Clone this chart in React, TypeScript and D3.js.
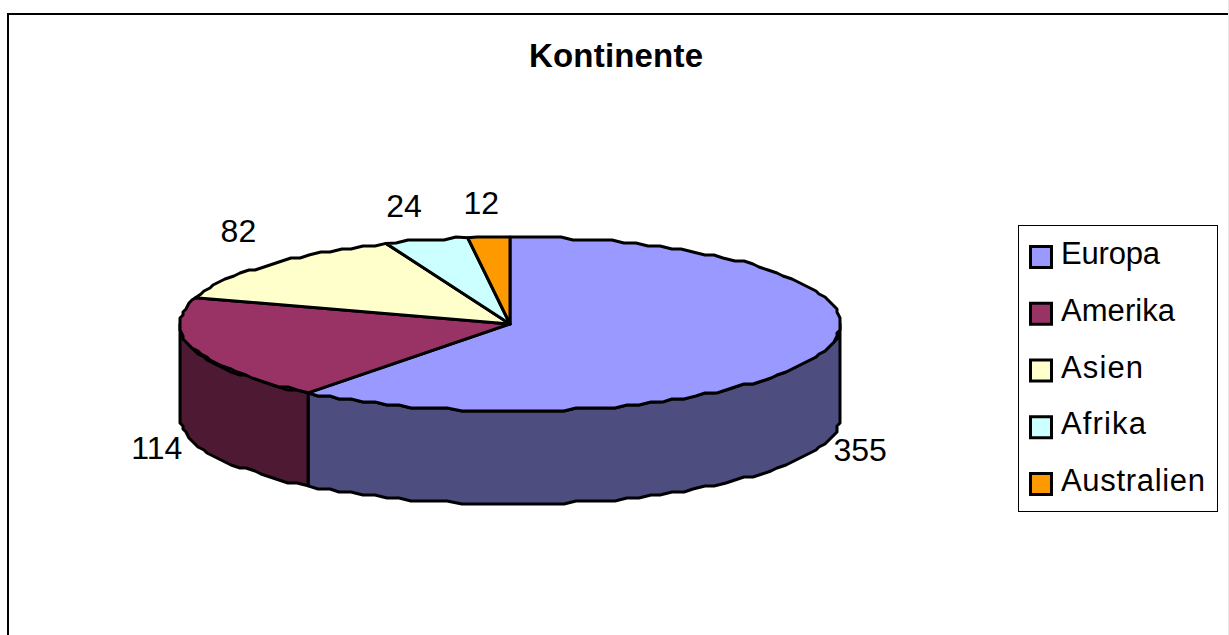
import * as React from 'react';
import * as d3 from 'd3';

const title = 'Kontinente';
const categories = ['Europa', 'Amerika', 'Asien', 'Afrika', 'Australien'];
const values = [355, 114, 82, 24, 12];
const topColors = ['#9999ff', '#993366', '#ffffcc', '#ccffff', '#ff9900'];
const sideColors = ['#4d4d80', '#4d1933', '#808066', '#668080', '#804d00'];
const labelNudge = [0, 0, 0, -12, -5];
const legendWidths = [99, 114, 82, 85, 144];

const width = 1229;
const height = 635;
const cx = 510;
const cy = 324;
const rx = 330;
const ry = 87;
const depth = 93;
const grid = 3; // outline is coarse in the original, gives the jagged edge

const font = '"Liberation Sans", Arial, sans-serif';

const pie = d3.pie<number>().sort(null).value(d => d);
const slices = pie(values);

const px = (a: number) => cx + rx * Math.sin(a);
const py = (a: number) => cy - ry * Math.cos(a);
const snap = (v: number) => Math.round(v / grid) * grid;

const line = d3.line();

function rimPoints(a0: number, a1: number, dy = 0): [number, number][] {
  const n = Math.max(2, Math.ceil(((a1 - a0) * rx) / 13));
  const angle = d3.scaleLinear().domain([0, n]).range([a0, a1]);
  return d3.range(n + 1).map(i => {
    const a = angle(i);
    const onEnd = i === 0 || i === n;
    return [onEnd ? px(a) : snap(px(a)), (onEnd ? py(a) : snap(py(a))) + dy];
  });
}

function topPath(a0: number, a1: number) {
  return line([[cx, cy], ...rimPoints(a0, a1)]) + 'Z';
}

function sidePath(a0: number, a1: number) {
  const from = Math.max(a0, Math.PI / 2);
  const to = Math.min(a1, (3 * Math.PI) / 2);
  if (to <= from) return null;
  return line([...rimPoints(from, to), ...rimPoints(from, to, depth).reverse()]) + 'Z';
}

const legendY = d3.scalePoint<string>().domain(categories).range([245, 472]);

export default function App() {
  return (
    <svg
      width={width}
      height={height}
      viewBox={`0 0 ${width} ${height}`}
      style={{ position: 'absolute', left: 0, top: 0, background: '#fff', display: 'block' }}
    >
      <rect x={8} y={14} width={1240} height={700} fill="#fff" stroke="#000" strokeWidth={2} />
      <line x1={1228.5} x2={1228.5} y1={0} y2={height} stroke="#e8e8e8" strokeWidth={1} />

      <text x={616} y={67} textAnchor="middle" fontFamily={font} fontWeight="bold" fontSize={33} textLength={174} fill="#000">
        {title}
      </text>

      <g stroke="#000" strokeWidth={3} strokeLinejoin="round">
        {slices.map((s, i) => {
          const d = sidePath(s.startAngle, s.endAngle);
          return d ? <path key={i} d={d} fill={sideColors[i]} /> : null;
        })}
        {slices.map((s, i) => (
          <path key={i} d={topPath(s.startAngle, s.endAngle)} fill={topColors[i]} />
        ))}
      </g>

      <g fontFamily={font} fontSize={32} fill="#000" textAnchor="middle">
        {slices.map((s, i) => {
          const mid = (s.startAngle + s.endAngle) / 2;
          const lower = Math.cos(mid) < 0;
          const x = cx + (rx + 40) * Math.sin(mid) + labelNudge[i];
          const y = py(mid) + (lower ? 109 : -23);
          return (
            <text key={i} x={x} y={y}>
              {s.data}
            </text>
          );
        })}
      </g>

      <rect x={1018.5} y={225.5} width={199} height={286} fill="#fff" stroke="#000" strokeWidth={1} />
      {categories.map((c, i) => {
        const y = legendY(c) as number;
        return (
          <g key={c}>
            <rect x={1030.5} y={y + 1.5} width={21} height={21} fill={topColors[i]} stroke="#000" strokeWidth={3} />
            <text x={1061} y={y + 19} fontFamily={font} fontSize={31} fill="#000" textLength={legendWidths[i]}>
              {c}
            </text>
          </g>
        );
      })}
    </svg>
  );
}
